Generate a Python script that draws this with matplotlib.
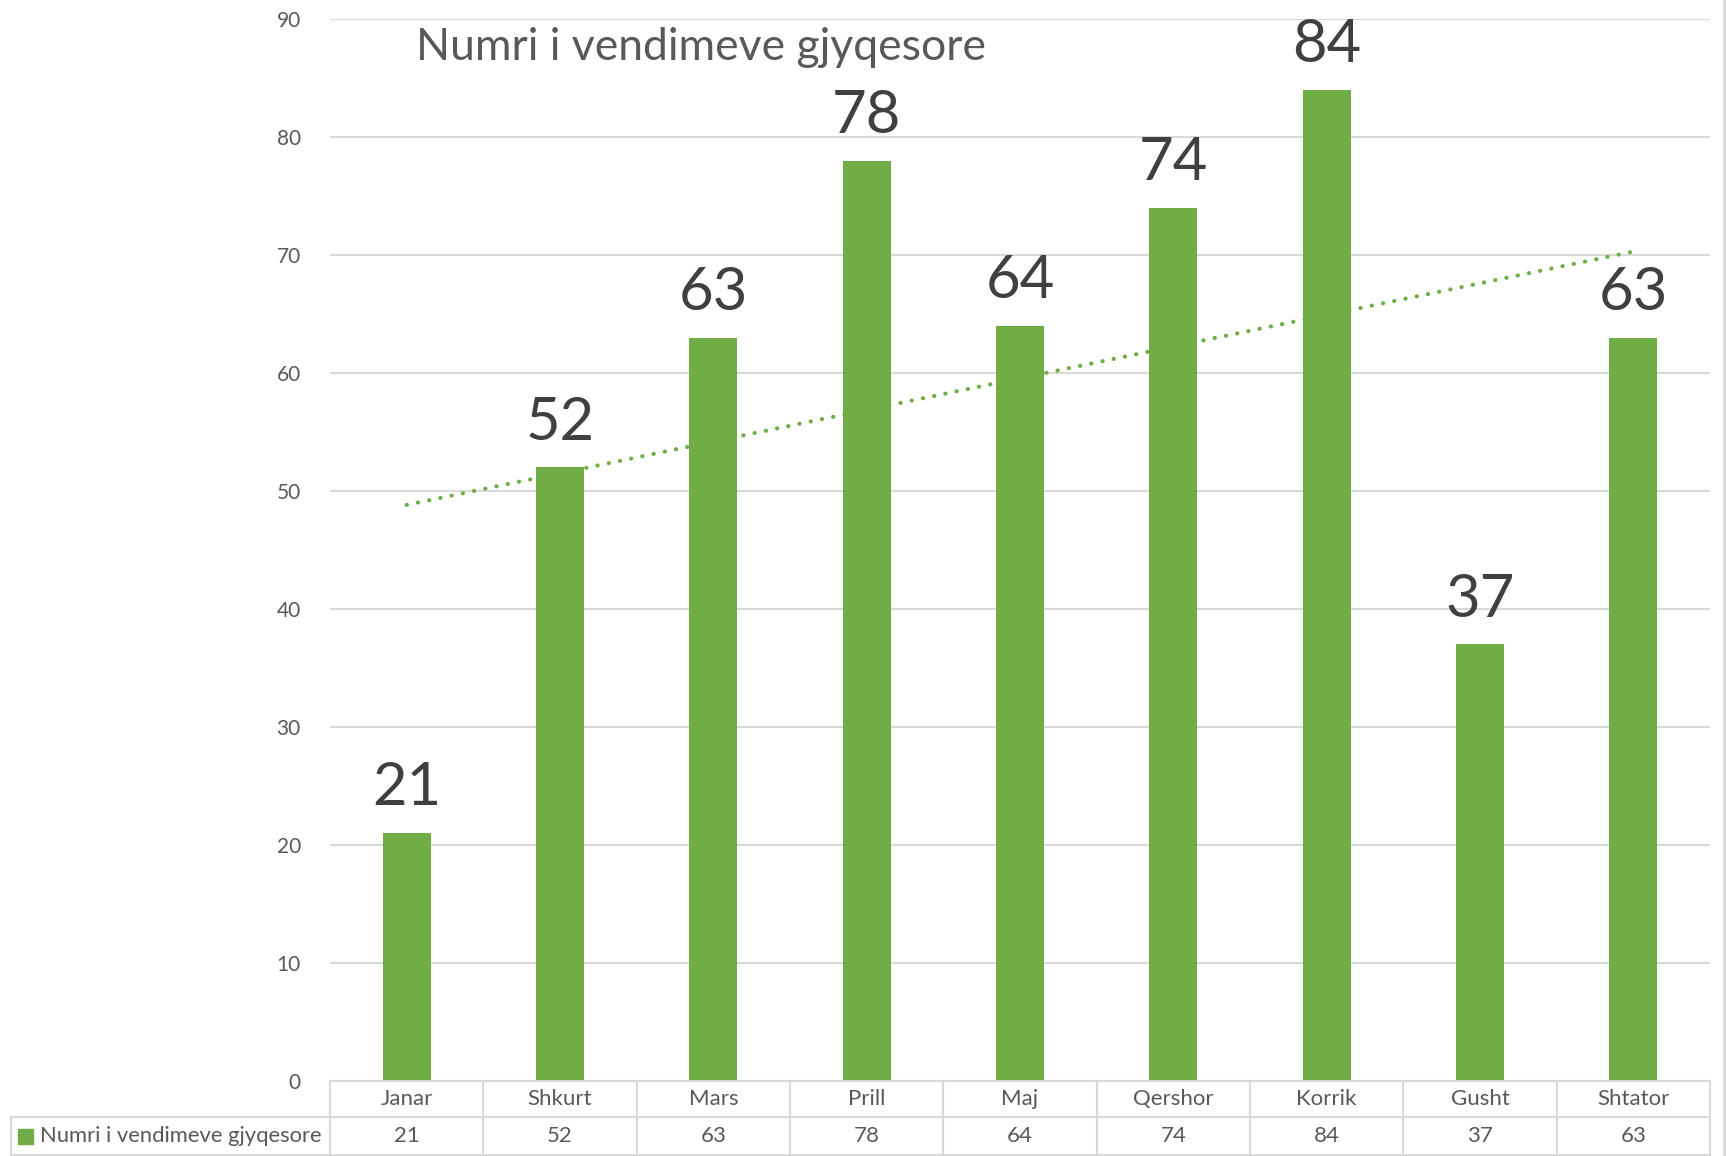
import numpy as np
import matplotlib
matplotlib.use("Agg")
import matplotlib.pyplot as plt
from matplotlib.lines import Line2D
from matplotlib.patches import Rectangle
from matplotlib.transforms import blended_transform_factory

categories = ["Janar", "Shkurt", "Mars", "Prill", "Maj", "Qershor", "Korrik", "Gusht", "Shtator"]
values = [21, 52, 63, 78, 64, 74, 84, 37, 63]
series_name = "Numri i vendimeve gjyqesore"
yticks = [0, 10, 20, 30, 40, 50, 60, 70, 80, 90]

GREEN = "#70AD47"
GRID = "#D9D9D9"
TXT = "#595959"
FONT = "Lato"
plt.rcParams['font.family'] = [FONT, 'DejaVu Sans']

W, H = 1726, 1156
fig = plt.figure(figsize=(W / 100, H / 100), dpi=100)
L, R, T, B = 330, 1710, 19, 1081
ax = fig.add_axes([L / W, 1 - B / H, (R - L) / W, (B - T) / H])

x = np.arange(len(categories))
ax.bar(x, values, width=0.313, color=GREEN, zorder=3)

# linear trendline
coef = np.polyfit(x, values, 1)
ax.plot(x[[0, -1]], np.polyval(coef, x[[0, -1]]), color=GREEN, lw=3,
        linestyle=(0, (0.05, 2.7)), dash_capstyle='round', zorder=4)

for xi, v in zip(x, values):
    ax.annotate(str(v), (xi, v), xytext=(0, 20), textcoords='offset points',
                ha='center', va='baseline', fontsize=43, color="#404040",
                annotation_clip=False, zorder=5)

ax.set_xlim(-0.5, len(categories) - 0.5)
ax.set_ylim(0, 90)
ax.set_yticks(yticks)
ax.set_xticks([])
ax.tick_params(axis='y', length=0, pad=21, labelsize=15, labelcolor=TXT)
for s in ax.spines.values():
    s.set_visible(False)
ax.grid(axis='y', color=GRID, lw=1.5, zorder=0)
ax.set_axisbelow(True)

ax.text((416 - L) / (R - L), 1 - (48 - T) / (B - T), series_name, transform=ax.transAxes,
        ha='left', va='center', fontsize=32, color=TXT)

# data table
bt = blended_transform_factory(ax.transData, fig.transFigure)
def fy(py):
    return 1 - py / H
r0, r1, r2 = 1081, 1117, 1158
lw_t = 1.5
fig.add_artist(Line2D([L / W, R / W], [fy(r0), fy(r0)], color=GRID, lw=lw_t, transform=fig.transFigure))
fig.add_artist(Line2D([11 / W, R / W], [fy(r1), fy(r1)], color=GRID, lw=lw_t, transform=fig.transFigure))
fig.add_artist(Line2D([11 / W, R / W], [fy(1155), fy(1155)], color=GRID, lw=lw_t, transform=fig.transFigure))
for i in range(len(categories) + 1):
    fig.add_artist(Line2D([i - 0.5, i - 0.5], [fy(r0), fy(r2)], color=GRID, lw=lw_t, transform=bt))
fig.add_artist(Line2D([11 / W, 11 / W], [fy(r1), fy(r2)], color=GRID, lw=lw_t, transform=fig.transFigure))
for xi, c, v in zip(x, categories, values):
    fig.text(xi, fy((r0 + r1) / 2), c, transform=bt, ha='center', va='center', fontsize=16, color=TXT)
    fig.text(xi, fy((r1 + 1156) / 2), str(v), transform=bt, ha='center', va='center', fontsize=16, color=TXT)
fig.add_artist(Rectangle((18 / W, fy(1144)), 15 / W, 15 / H, color=GREEN, transform=fig.transFigure))
fig.text(40 / W, fy((r1 + 1156) / 2), series_name, ha='left', va='center', fontsize=15.8, color=TXT)

fig.add_artist(Line2D([1724 / W, 1724 / W], [0, 1], color=GRID, lw=2, transform=fig.transFigure))

fig.savefig("out.png", dpi=100, facecolor="white")
